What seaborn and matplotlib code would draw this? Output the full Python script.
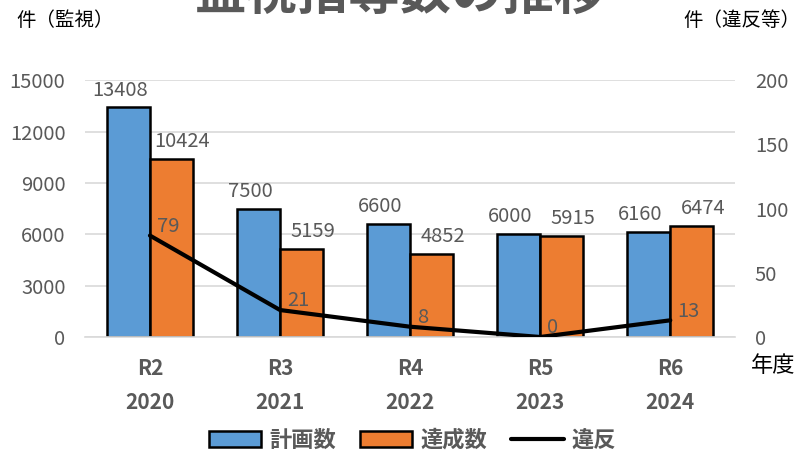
import seaborn as sns
import matplotlib.pyplot as plt
import matplotlib.patches as mpatches
import matplotlib.lines as mlines
import numpy as np
import pandas as pd

# Data
years = ['R2\n2020', 'R3\n2021', 'R4\n2022', 'R5\n2023', 'R6\n2024']
planned = [13408, 7500, 6600, 6000, 6160]     # 計画数
achieved = [10424, 5159, 4852, 5915, 6474]    # 達成数
violations = [79, 21, 8, 0, 13]               # 違反

blue = '#5B9BD5'
orange = '#ED7D31'
gray = '#595959'

df = pd.DataFrame({
    'year': years * 2,
    'count': planned + achieved,
    'kind': ['計画数'] * len(years) + ['達成数'] * len(years),
})

sns.set_style("white")
plt.rcParams['font.family'] = ['Noto Sans CJK JP', 'DejaVu Sans']

fig = plt.figure(figsize=(8.01, 4.61), dpi=100)
ax = fig.add_axes([0.106, 0.269, 0.812, 0.557])

sns.barplot(data=df, x='year', y='count', hue='kind', palette=[blue, orange],
            width=0.66, edgecolor='black', linewidth=1.8, saturation=1,
            legend=False, ax=ax)

ax.set_ylim(0, 15000)
ax.set_xlim(-0.5, 4.5)
ax.set_yticks(np.arange(0, 15001, 3000))
ax.yaxis.grid(True, color='#d9d9d9', linewidth=1.2)
ax.set_axisbelow(True)
for s in ['top', 'right', 'left']:
    ax.spines[s].set_visible(False)
ax.spines['bottom'].set_color('#d9d9d9')
ax.spines['bottom'].set_linewidth(1.2)
ax.tick_params(axis='y', length=0, pad=14, labelsize=14.5, labelcolor=gray)
ax.tick_params(axis='x', length=0, pad=15, labelsize=15, labelcolor=gray)
for lbl in ax.get_xticklabels():
    lbl.set_fontweight('bold')
    lbl.set_linespacing(1.75)
ax.set_xlabel('')
ax.set_ylabel('')

# value labels above bars, nudged apart like the original
for cont, dx in zip(ax.containers, [-6, 8]):
    for t in ax.bar_label(cont, padding=5, fontsize=14.5, color=gray):
        t.xyann = (dx, 5)

# violations line on the secondary axis
ax2 = ax.twinx()
x = np.arange(len(years))
sns.lineplot(x=x, y=violations, color='black', linewidth=3, ax=ax2)
ax2.set_ylim(0, 200)
ax2.set_yticks(np.arange(0, 201, 50))
for s in ['top', 'right', 'left', 'bottom']:
    ax2.spines[s].set_visible(False)
ax2.tick_params(axis='y', length=0, pad=14, labelsize=14.5, labelcolor=gray)
ax2.set_ylabel('')
for xi, v in zip(x, violations):
    ax2.annotate(str(v), (xi, v), xytext=(5, -1), textcoords='offset points',
                 ha='left', va='bottom', fontsize=14.5, color=gray)

# texts
fig.text(0.5, 1 + 6 / 461, '監視指導数の推移', ha='center', va='center',
         fontsize=37, fontweight='bold', color=gray)
fig.text(0.02, 0.955, '件（監視）', ha='left', va='center', fontsize=14, color='black')
fig.text(0.999, 0.955, '件（違反等）', ha='right', va='center', fontsize=14, color='black')
fig.text(0.938, 0.208, '年度', ha='left', va='center', fontsize=16, color='black')

handles = [
    mpatches.Patch(facecolor=blue, edgecolor='black', linewidth=1.8, label='計画数'),
    mpatches.Patch(facecolor=orange, edgecolor='black', linewidth=1.8, label='達成数'),
    mlines.Line2D([], [], color='black', linewidth=3, label='違反'),
]
leg = fig.legend(handles=handles, loc='center', bbox_to_anchor=(0.515, 0.045),
                 ncol=3, frameon=False, handlelength=2.35, handleheight=0.75,
                 columnspacing=1.1, handletextpad=0.35,
                 prop={'size': 16, 'weight': 'bold'})
for t in leg.get_texts():
    t.set_color(gray)

fig.savefig('out.png', dpi=100)
